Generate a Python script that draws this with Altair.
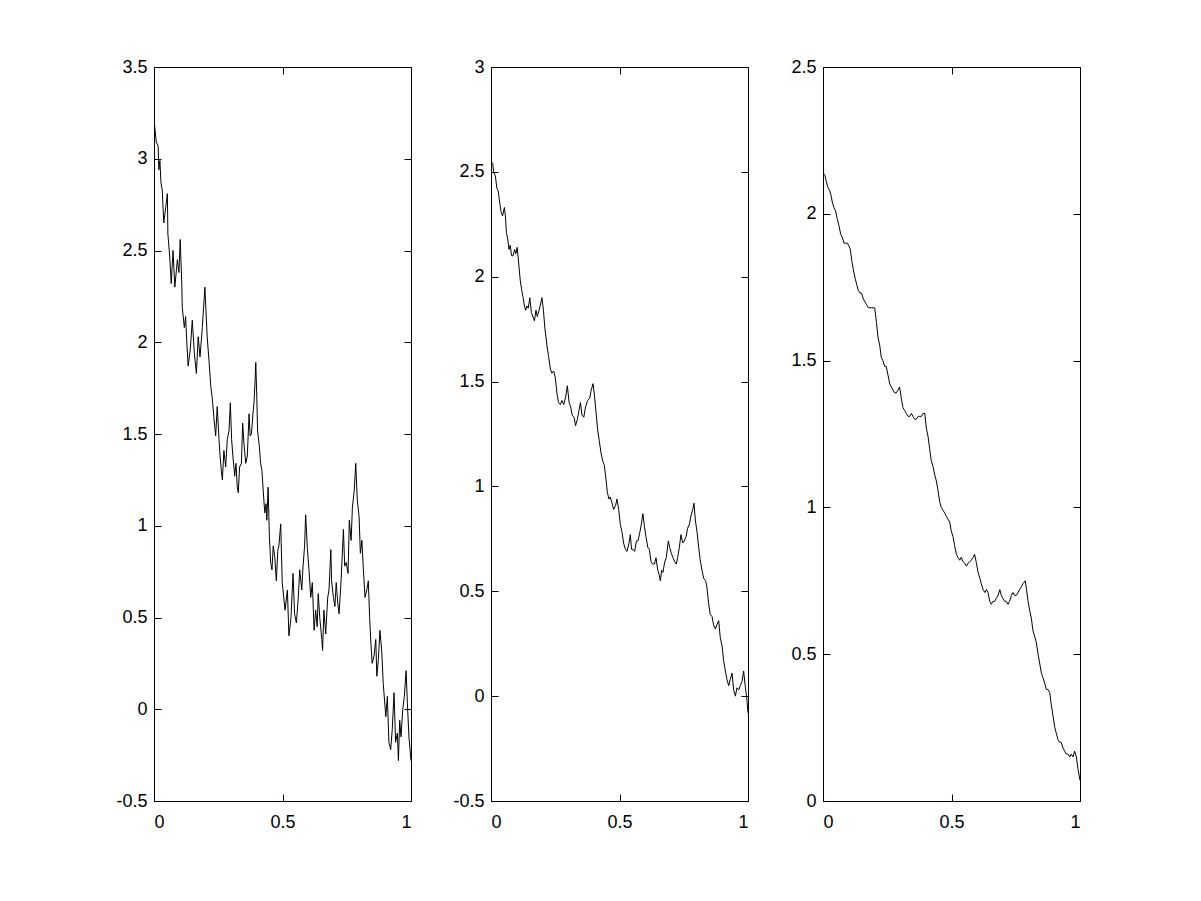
import altair as alt
import pandas as pd

# Panel 1 (x, y) points
panel1 = [
    (0.000, 3.21), (0.009, 3.09), (0.016, 3.07), (0.019, 2.94), (0.023, 2.99), (0.027, 2.87),
    (0.032, 2.83), (0.038, 2.65), (0.046, 2.74), (0.052, 2.81), (0.054, 2.59), (0.061, 2.47),
    (0.067, 2.32), (0.074, 2.50), (0.081, 2.30), (0.091, 2.45), (0.097, 2.38), (0.102, 2.56),
    (0.108, 2.32), (0.110, 2.19), (0.118, 2.08), (0.123, 2.14), (0.128, 1.99), (0.133, 1.87),
    (0.141, 1.96), (0.149, 2.12), (0.157, 1.94), (0.165, 1.83), (0.172, 2.03), (0.179, 1.92),
    (0.188, 2.08), (0.198, 2.30), (0.207, 2.03), (0.214, 1.90), (0.221, 1.76), (0.227, 1.69),
    (0.233, 1.59), (0.240, 1.49), (0.246, 1.65), (0.253, 1.47), (0.257, 1.38), (0.262, 1.30),
    (0.266, 1.25), (0.272, 1.41), (0.279, 1.32), (0.285, 1.47), (0.292, 1.52), (0.297, 1.67),
    (0.302, 1.47), (0.307, 1.38), (0.314, 1.27), (0.319, 1.34), (0.324, 1.21), (0.328, 1.18),
    (0.333, 1.32), (0.340, 1.34), (0.345, 1.56), (0.350, 1.45), (0.357, 1.34), (0.363, 1.38),
    (0.370, 1.61), (0.374, 1.49), (0.379, 1.50), (0.385, 1.61), (0.389, 1.67), (0.393, 1.78),
    (0.396, 1.89), (0.400, 1.70), (0.403, 1.52), (0.410, 1.43), (0.415, 1.34), (0.420, 1.30),
    (0.425, 1.19), (0.431, 1.07), (0.436, 1.12), (0.439, 1.03), (0.444, 1.21), (0.449, 0.94),
    (0.454, 0.80), (0.459, 0.76), (0.464, 0.89), (0.470, 0.83), (0.476, 0.70), (0.482, 0.87),
    (0.486, 0.89), (0.493, 1.01), (0.499, 0.69), (0.510, 0.54), (0.519, 0.65), (0.525, 0.40),
    (0.533, 0.50), (0.541, 0.74), (0.547, 0.52), (0.554, 0.47), (0.561, 0.60), (0.567, 0.76),
    (0.575, 0.65), (0.580, 0.78), (0.586, 0.89), (0.590, 1.06), (0.597, 0.87), (0.603, 0.76),
    (0.610, 0.61), (0.616, 0.69), (0.623, 0.43), (0.629, 0.54), (0.635, 0.45), (0.639, 0.63),
    (0.645, 0.50), (0.653, 0.38), (0.656, 0.32), (0.661, 0.54), (0.668, 0.41), (0.676, 0.61),
    (0.681, 0.65), (0.688, 0.87), (0.691, 0.70), (0.698, 0.61), (0.704, 0.56), (0.709, 0.69),
    (0.715, 0.58), (0.720, 0.52), (0.728, 0.70), (0.737, 0.98), (0.742, 0.78), (0.748, 0.80),
    (0.755, 0.74), (0.760, 1.03), (0.767, 0.92), (0.772, 1.10), (0.779, 1.19), (0.785, 1.34),
    (0.791, 1.14), (0.798, 1.05), (0.803, 0.85), (0.809, 0.92), (0.814, 0.78), (0.821, 0.61),
    (0.828, 0.65), (0.834, 0.70), (0.839, 0.50), (0.844, 0.36), (0.849, 0.25), (0.856, 0.29),
    (0.863, 0.38), (0.867, 0.18), (0.873, 0.27), (0.879, 0.43), (0.886, 0.32), (0.892, 0.14),
    (0.902, -0.04), (0.908, 0.07), (0.914, -0.18), (0.921, -0.22), (0.927, -0.11), (0.934, 0.09),
    (0.940, -0.18), (0.947, -0.13), (0.951, -0.28), (0.956, -0.06), (0.961, -0.15), (0.968, 0.00),
    (0.974, 0.07), (0.981, 0.21), (0.986, 0.03), (0.992, -0.15), (1.000, -0.28),
]

panel2 = [
    (0.000, 2.55), (0.007, 2.54), (0.010, 2.50), (0.017, 2.48), (0.023, 2.42), (0.028, 2.41),
    (0.032, 2.37), (0.039, 2.31), (0.045, 2.29), (0.052, 2.33), (0.056, 2.29), (0.060, 2.21),
    (0.065, 2.18), (0.070, 2.13), (0.075, 2.15), (0.080, 2.10), (0.086, 2.10), (0.092, 2.13),
    (0.097, 2.11), (0.102, 2.14), (0.108, 2.06), (0.114, 1.98), (0.119, 1.94), (0.125, 1.90),
    (0.130, 1.86), (0.135, 1.84), (0.140, 1.86), (0.145, 1.85), (0.151, 1.90), (0.157, 1.83),
    (0.163, 1.81), (0.169, 1.79), (0.175, 1.84), (0.180, 1.81), (0.187, 1.84), (0.193, 1.87),
    (0.198, 1.90), (0.204, 1.84), (0.210, 1.75), (0.218, 1.67), (0.224, 1.62), (0.231, 1.56),
    (0.237, 1.54), (0.244, 1.55), (0.250, 1.52), (0.257, 1.44), (0.263, 1.40), (0.270, 1.39),
    (0.276, 1.41), (0.283, 1.39), (0.291, 1.43), (0.297, 1.48), (0.304, 1.40), (0.310, 1.38),
    (0.316, 1.34), (0.323, 1.33), (0.329, 1.29), (0.336, 1.32), (0.342, 1.36), (0.348, 1.40),
    (0.354, 1.34), (0.361, 1.33), (0.368, 1.38), (0.376, 1.41), (0.384, 1.42), (0.390, 1.46),
    (0.397, 1.49), (0.402, 1.44), (0.409, 1.35), (0.415, 1.27), (0.421, 1.22), (0.428, 1.16),
    (0.435, 1.12), (0.441, 1.10), (0.446, 1.05), (0.453, 0.97), (0.459, 0.94), (0.464, 0.95),
    (0.471, 0.92), (0.477, 0.89), (0.485, 0.91), (0.490, 0.94), (0.497, 0.89), (0.503, 0.82),
    (0.510, 0.78), (0.516, 0.73), (0.523, 0.70), (0.529, 0.69), (0.537, 0.73), (0.542, 0.77),
    (0.547, 0.70), (0.553, 0.70), (0.559, 0.69), (0.566, 0.74), (0.572, 0.74), (0.579, 0.78),
    (0.585, 0.82), (0.591, 0.87), (0.597, 0.81), (0.603, 0.76), (0.610, 0.71), (0.616, 0.70),
    (0.623, 0.64), (0.629, 0.63), (0.636, 0.63), (0.642, 0.66), (0.649, 0.60), (0.654, 0.58),
    (0.659, 0.55), (0.664, 0.60), (0.669, 0.59), (0.676, 0.64), (0.682, 0.66), (0.690, 0.74),
    (0.695, 0.71), (0.702, 0.68), (0.708, 0.66), (0.715, 0.64), (0.721, 0.63), (0.726, 0.66),
    (0.733, 0.71), (0.739, 0.77), (0.746, 0.73), (0.752, 0.74), (0.759, 0.76), (0.765, 0.80),
    (0.772, 0.82), (0.778, 0.86), (0.785, 0.89), (0.790, 0.92), (0.795, 0.84), (0.802, 0.78),
    (0.808, 0.71), (0.814, 0.65), (0.821, 0.60), (0.828, 0.56), (0.835, 0.55), (0.840, 0.52),
    (0.847, 0.44), (0.853, 0.39), (0.860, 0.38), (0.866, 0.34), (0.873, 0.32), (0.879, 0.34),
    (0.886, 0.36), (0.892, 0.28), (0.899, 0.24), (0.905, 0.17), (0.912, 0.12), (0.918, 0.08),
    (0.925, 0.05), (0.931, 0.08), (0.938, 0.11), (0.944, 0.03), (0.951, 0.00), (0.957, 0.04),
    (0.964, 0.03), (0.970, 0.05), (0.977, 0.07), (0.983, 0.12), (0.990, 0.04), (0.996, -0.02),
    (1.000, -0.08),
]

panel3 = [
    (0.000, 2.14), (0.008, 2.13), (0.013, 2.11), (0.019, 2.09), (0.026, 2.08), (0.032, 2.06),
    (0.036, 2.04), (0.043, 2.02), (0.049, 2.01), (0.056, 1.98), (0.062, 1.96), (0.069, 1.93),
    (0.075, 1.92), (0.082, 1.90), (0.088, 1.90), (0.095, 1.90), (0.101, 1.89), (0.106, 1.88),
    (0.112, 1.84), (0.118, 1.81), (0.125, 1.78), (0.131, 1.76), (0.137, 1.74), (0.144, 1.73),
    (0.150, 1.73), (0.157, 1.71), (0.163, 1.70), (0.170, 1.69), (0.176, 1.68), (0.183, 1.68),
    (0.189, 1.68), (0.196, 1.68), (0.201, 1.68), (0.208, 1.63), (0.214, 1.58), (0.221, 1.55),
    (0.227, 1.51), (0.233, 1.50), (0.240, 1.48), (0.246, 1.48), (0.253, 1.45), (0.260, 1.42),
    (0.266, 1.41), (0.272, 1.40), (0.279, 1.39), (0.285, 1.39), (0.292, 1.40), (0.298, 1.41),
    (0.305, 1.37), (0.311, 1.34), (0.318, 1.33), (0.324, 1.32), (0.331, 1.31), (0.337, 1.31),
    (0.344, 1.32), (0.350, 1.31), (0.357, 1.30), (0.363, 1.30), (0.370, 1.31), (0.376, 1.31),
    (0.383, 1.31), (0.389, 1.32), (0.396, 1.32), (0.402, 1.27), (0.409, 1.24), (0.415, 1.20),
    (0.421, 1.16), (0.428, 1.14), (0.435, 1.11), (0.441, 1.09), (0.447, 1.06), (0.454, 1.02),
    (0.460, 1.00), (0.467, 0.99), (0.474, 0.98), (0.480, 0.97), (0.486, 0.96), (0.493, 0.95),
    (0.499, 0.92), (0.506, 0.90), (0.512, 0.87), (0.519, 0.84), (0.525, 0.83), (0.532, 0.82),
    (0.538, 0.83), (0.545, 0.815), (0.551, 0.81), (0.558, 0.80), (0.564, 0.81), (0.571, 0.815),
    (0.577, 0.82), (0.584, 0.83), (0.590, 0.84), (0.597, 0.81), (0.603, 0.78), (0.610, 0.76),
    (0.616, 0.74), (0.623, 0.72), (0.630, 0.71), (0.636, 0.72), (0.642, 0.71), (0.649, 0.68),
    (0.655, 0.67), (0.661, 0.68), (0.668, 0.68), (0.674, 0.69), (0.681, 0.70), (0.688, 0.72),
    (0.694, 0.70), (0.700, 0.69), (0.707, 0.68), (0.713, 0.68), (0.720, 0.67), (0.726, 0.68),
    (0.733, 0.70), (0.739, 0.71), (0.746, 0.70), (0.752, 0.70), (0.759, 0.71), (0.765, 0.72),
    (0.772, 0.73), (0.778, 0.74), (0.787, 0.75), (0.792, 0.72), (0.798, 0.68), (0.804, 0.65),
    (0.811, 0.62), (0.817, 0.58), (0.824, 0.56), (0.830, 0.54), (0.837, 0.50), (0.843, 0.47),
    (0.850, 0.435), (0.856, 0.42), (0.863, 0.40), (0.869, 0.38), (0.875, 0.38), (0.882, 0.37),
    (0.888, 0.33), (0.895, 0.29), (0.902, 0.25), (0.908, 0.23), (0.914, 0.21), (0.921, 0.20),
    (0.927, 0.20), (0.934, 0.18), (0.940, 0.17), (0.947, 0.16), (0.953, 0.16), (0.960, 0.15),
    (0.966, 0.16), (0.973, 0.15), (0.979, 0.17), (0.986, 0.15), (0.992, 0.11), (1.000, 0.07),
]

x_ticks = [0, 0.5, 1]
y_ticks1 = [-0.5, 0, 0.5, 1, 1.5, 2, 2.5, 3, 3.5]
y_ticks2 = [-0.5, 0, 0.5, 1, 1.5, 2, 2.5, 3]
y_ticks3 = [0, 0.5, 1, 1.5, 2, 2.5]

FONT = "Liberation Sans"
W, H = 257, 734
TICK = 7


def panel(points, ydom, yticks):
    df = pd.DataFrame(points, columns=["x", "y"])
    xs = alt.Scale(domain=[0, 1], nice=False, zero=False)
    ys = alt.Scale(domain=ydom, nice=False, zero=False)
    lab = "'' + datum.value"
    base = alt.Chart(df)
    main = base.mark_line(color="black", strokeWidth=1, clip=True).encode(
        x=alt.X("x:Q", scale=xs, title=None,
                axis=alt.Axis(orient="bottom", values=x_ticks, offset=-TICK, tickSize=TICK,
                              domain=False, grid=False, labelPadding=12, labelExpr=lab,
                              minExtent=0)),
        y=alt.Y("y:Q", scale=ys, title=None,
                axis=alt.Axis(orient="left", values=yticks, offset=-TICK, tickSize=TICK,
                              domain=False, grid=False, labelPadding=7, labelExpr=lab,
                              minExtent=40, maxExtent=40)),
    )
    mirror = base.mark_line(strokeOpacity=0).encode(
        x=alt.X("x:Q", scale=xs, title=None,
                axis=alt.Axis(orient="top", values=x_ticks, offset=-TICK, tickSize=TICK,
                              domain=False, grid=False, labels=False,
                              minExtent=0, maxExtent=0)),
        y=alt.Y("y:Q", scale=ys, title=None,
                axis=alt.Axis(orient="right", values=yticks, offset=-TICK, tickSize=TICK,
                              domain=False, grid=False, labels=False,
                              minExtent=0, maxExtent=0)),
    )
    return alt.layer(main, mirror).resolve_axis(x="independent", y="independent").properties(
        width=W, height=H)


chart = alt.hconcat(
    panel(panel1, [-0.5, 3.5], y_ticks1),
    panel(panel2, [-0.5, 3], y_ticks2),
    panel(panel3, [0, 2.5], y_ticks3),
    spacing=40,
).properties(
    padding={"left": 107, "top": 49, "right": 5, "bottom": 5},
    background="white",
).configure_view(
    stroke="black", strokeWidth=1,
).configure_axis(
    labelFont=FONT, labelFontSize=18, labelColor="black", tickColor="black", tickWidth=1,
)

chart.save("out.html", embed_options={"renderer": "svg", "actions": False})
